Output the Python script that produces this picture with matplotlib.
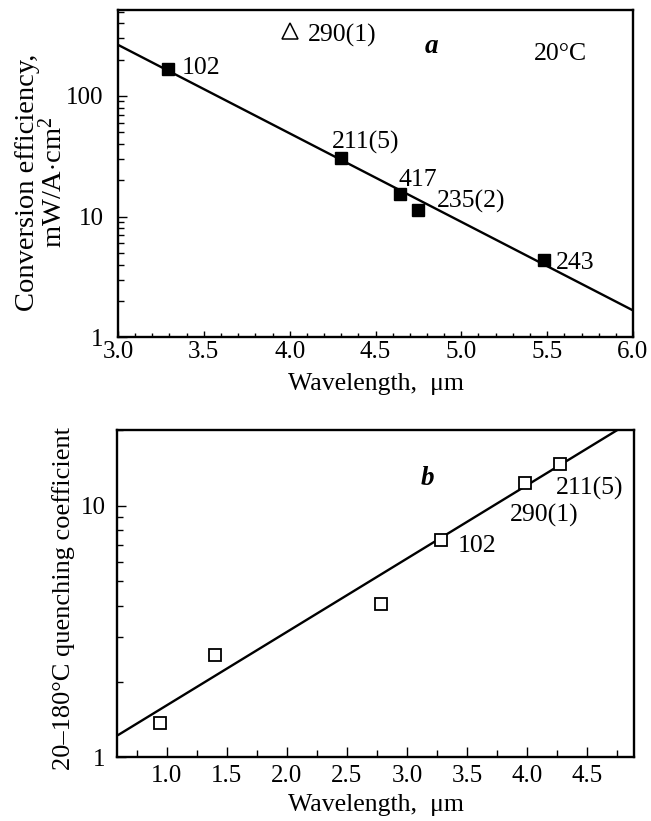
import numpy as np
import matplotlib
matplotlib.use("Agg")
import matplotlib.pyplot as plt
import matplotlib.ticker as ticker

plt.rcParams['font.family'] = ['Liberation Serif', 'DejaVu Serif']
plt.rcParams['mathtext.fontset'] = 'custom'
plt.rcParams['mathtext.rm'] = 'Liberation Serif'
plt.rcParams['mathtext.it'] = 'Liberation Serif:italic'
plt.rcParams['mathtext.bf'] = 'Liberation Serif:bold'

# panel a: conversion efficiency vs wavelength (20 C)
wl_a = [3.29, 4.30, 4.64, 4.75, 5.48]
eff_a = [168, 30.3, 15.3, 11.4, 4.35]
lab_a = ["102", "211(5)", "417", "235(2)", "243"]
wl_tri = [4.0]
eff_tri = [342]
lab_tri = ["290(1)"]
fit_a_x = [3.0, 6.0]
fit_a_y = [265, 1.67]

# panel b: 20-180 C quenching coefficient vs wavelength
wl_b = [0.94, 1.40, 2.78, 3.28, 3.98, 4.275]
q_b = [1.37, 2.54, 4.08, 7.28, 12.3, 14.6]
lab_b = ["", "", "", "102", "290(1)", "211(5)"]
fit_b_x = [0.6, 4.9]
fit_b_y = [1.23, 22.1]

# label offsets in points (dx, dy) from the marker
off_a = [(10, 0.5), (-7, 11.5), (-1, 10), (13.4, 6), (8.9, -2)]
off_tri = [(13, -3)]
off_b = [(0, 0), (0, 0), (0, 0), (12.4, -4), (-10.7, -23.5), (-3.2, -17.5)]

FS_TICK = 18
FS_LAB = 18.5
FS_YLAB_A = 20.5
FS_YLAB_B = 19

fig = plt.figure(figsize=(6.51, 8.21), dpi=100)
ax1 = fig.add_axes([118/651, 1-337.3/821, 515/651, 327.3/821])
ax2 = fig.add_axes([117.5/651, 1-757.3/821, 516.5/651, 327.3/821])


def style_axis(ax, xmaj, xmin, xpad, xlen, ypad):
    ax.set_yscale('log')
    for s in ax.spines.values():
        s.set_linewidth(1.7)
    ax.xaxis.set_major_locator(ticker.MultipleLocator(xmaj))
    ax.xaxis.set_minor_locator(ticker.MultipleLocator(xmin))
    ax.xaxis.set_major_formatter(ticker.FormatStrFormatter('%.1f'))
    ax.yaxis.set_major_locator(ticker.LogLocator(base=10))
    ax.yaxis.set_minor_locator(ticker.LogLocator(base=10, subs=np.arange(2, 10)))
    ax.yaxis.set_major_formatter(ticker.FuncFormatter(lambda v, p: "%g" % v))
    ax.yaxis.set_minor_formatter(ticker.NullFormatter())
    ax.tick_params(axis='both', which='both', direction='in', top=False, right=False,
                   width=1.0, labelsize=FS_TICK)
    ax.tick_params(axis='x', which='major', length=xlen[0], pad=xpad)
    ax.tick_params(axis='x', which='minor', length=xlen[1])
    ax.tick_params(axis='y', which='major', length=6.5, pad=ypad)
    ax.tick_params(axis='y', which='minor', length=4.3)


# ---- panel a
style_axis(ax1, 0.5, 0.1, 2.5, (4.5, 2.6), 10.5)
ax1.plot(fit_a_x, fit_a_y, color='black', lw=1.7)
ax1.plot(wl_a, eff_a, 's', color='black', ms=8.5)
ax1.plot(wl_tri, eff_tri, '^', mfc='white', mec='black', mew=1.1, ms=11)
for x, y, t, o in zip(wl_a, eff_a, lab_a, off_a):
    ax1.annotate(t, (x, y), xytext=o, textcoords='offset points',
                 ha='left', va='center', fontsize=FS_LAB)
for x, y, t, o in zip(wl_tri, eff_tri, lab_tri, off_tri):
    ax1.annotate(t, (x, y), xytext=o, textcoords='offset points',
                 ha='left', va='center', fontsize=FS_LAB)
ax1.set_xlim(3.0, 6.0)
ax1.set_ylim(1, 515)
ax1.text(0.608, 0.869, "a", transform=ax1.transAxes, ha='center', va='baseline',
         fontsize=FS_LAB + 1, fontweight='bold', style='italic')
ax1.text(0.808, 0.847, "20°C", transform=ax1.transAxes, ha='left', va='baseline',
         fontsize=FS_LAB)
ax1.text(-0.1495, 0.474, "Conversion efficiency,\nmW/A$\\cdot$cm$^2$",
         transform=ax1.transAxes, rotation=90, ha='center', va='center',
         multialignment='center', fontsize=FS_YLAB_A, linespacing=0.95)
ax1.set_xlabel("Wavelength,  μm", fontsize=FS_LAB)
ax1.xaxis.set_label_coords(0.5, -0.108)
ax1.xaxis.label.set_va('top')

# ---- panel b
style_axis(ax2, 0.5, 0.25, 5.5, (7, 5), 8.5)
ax2.plot(fit_b_x, fit_b_y, color='black', lw=1.7)
ax2.plot(wl_b, q_b, 's', mfc='white', mec='black', mew=1.3, ms=8.5)
for x, y, t, o in zip(wl_b, q_b, lab_b, off_b):
    if t:
        ax2.annotate(t, (x, y), xytext=o, textcoords='offset points',
                     ha='left', va='center', fontsize=FS_LAB)
ax2.set_xlim(0.59, 4.89)
ax2.set_ylim(1, 20)
ax2.text(0.601, 0.832, "b", transform=ax2.transAxes, ha='center', va='baseline',
         fontsize=FS_LAB + 1, fontweight='bold', style='italic')
ax2.text(-0.105, 0.485, "20–180°C quenching coefficient",
         transform=ax2.transAxes, rotation=90, ha='center', va='center',
         fontsize=FS_YLAB_B)
ax2.set_xlabel("Wavelength,  μm", fontsize=FS_LAB)
ax2.xaxis.set_label_coords(0.5, -0.112)
ax2.xaxis.label.set_va('top')

fig.savefig("out.png", dpi=100)
